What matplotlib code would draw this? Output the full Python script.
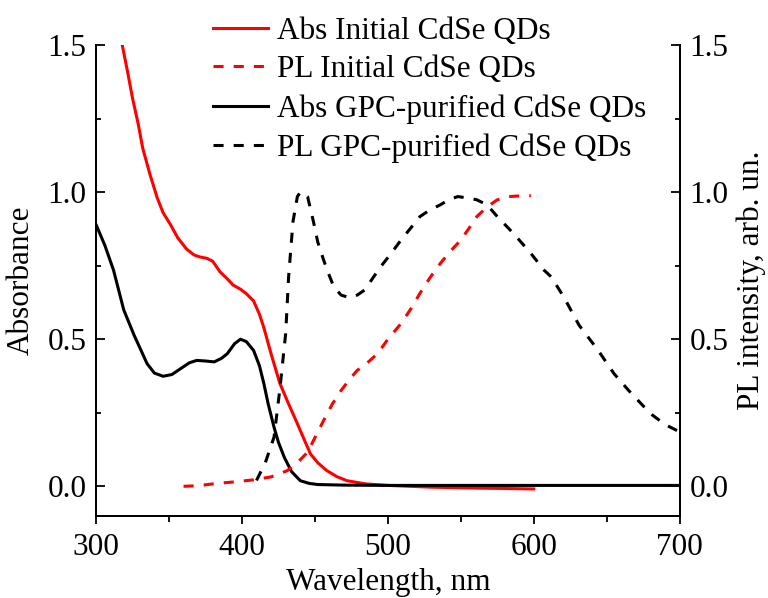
import matplotlib
matplotlib.use("Agg")
from matplotlib import pyplot as plt
from matplotlib.ticker import MultipleLocator, FormatStrFormatter

# data
abs_init_wl = [318, 322, 325, 329, 332, 337, 342, 346, 351, 356, 362, 367, 371, 376, 380,
               385, 390, 394, 399, 403, 408, 412, 415, 420, 426, 432, 438, 443, 447, 452,
               458, 465, 472, 485, 500, 530, 560, 600]
abs_init = [1.5, 1.4, 1.32, 1.23, 1.15, 1.06, 0.98, 0.93, 0.89, 0.845, 0.807, 0.787, 0.78,
            0.775, 0.765, 0.729, 0.705, 0.684, 0.67, 0.655, 0.63, 0.585, 0.54, 0.45, 0.35,
            0.28, 0.213, 0.155, 0.11, 0.08, 0.054, 0.033, 0.019, 0.008, 0.003, -0.003,
            -0.006, -0.009]

abs_gpc_wl = [300, 306, 312, 319, 326, 335, 340, 346, 352, 358, 364, 369, 375, 381, 386,
              390, 395, 399, 403, 408, 412, 415, 418, 422, 425, 429, 434, 440, 446, 452,
              470, 500, 600, 700]
abs_gpc = [0.89, 0.82, 0.735, 0.60, 0.515, 0.417, 0.385, 0.374, 0.38, 0.40, 0.42, 0.428,
           0.426, 0.423, 0.435, 0.451, 0.485, 0.50, 0.492, 0.462, 0.41, 0.35, 0.28, 0.201,
           0.15, 0.099, 0.05, 0.019, 0.01, 0.006, 0.004, 0.003, 0.003, 0.003]

pl_init_wl = [360, 370, 383, 395, 408, 420, 431, 438, 445, 450, 456, 462, 468, 474, 479,
              486, 493, 500, 509, 516, 522, 529, 536, 543, 550, 556, 561, 568, 575, 583,
              593, 598]
pl_init = [0.0, 0.002, 0.01, 0.015, 0.022, 0.032, 0.053, 0.08, 0.116, 0.165, 0.224, 0.28,
           0.326, 0.365, 0.394, 0.42, 0.451, 0.50, 0.553, 0.605, 0.656, 0.71, 0.758, 0.80,
           0.837, 0.88, 0.917, 0.95, 0.974, 0.985, 0.988, 0.988]

pl_gpc_wl = [410, 416, 422, 426, 430, 432, 435, 438, 440, 443, 445, 449, 452, 456, 460,
             463, 468, 474, 479, 484, 490, 495, 502, 509, 516, 522, 529, 536, 542, 548,
             555, 561, 568, 575, 586, 598, 607, 612, 621, 631, 644, 655, 665, 680, 690, 700]
pl_gpc = [0.02, 0.08, 0.167, 0.33, 0.52, 0.712, 0.90, 0.985, 1.0, 0.995, 0.985, 0.90, 0.83,
          0.769, 0.715, 0.678, 0.65, 0.641, 0.65, 0.667, 0.71, 0.746, 0.79, 0.837, 0.88,
          0.917, 0.94, 0.957, 0.975, 0.985, 0.98, 0.974, 0.957, 0.917, 0.86, 0.792, 0.735,
          0.712, 0.64, 0.548, 0.463, 0.383, 0.326, 0.247, 0.21, 0.185]

labels = ["Abs Initial CdSe QDs", "PL Initial CdSe QDs",
          "Abs GPC-purified CdSe QDs", "PL GPC-purified CdSe QDs"]

plt.rcParams["font.family"] = ["Liberation Serif", "DejaVu Serif"]
FS = 22.5
LW = 2.2
DASH = (0, (3.3, 3.3))

fig = plt.figure(figsize=(7.68, 5.98), dpi=100)
ax = fig.add_axes([0.125, 0.1376, 0.76, 0.787])
ax2 = ax.twinx()

l1, = ax.plot(abs_init_wl, abs_init, color="red", lw=LW)
l3, = ax.plot(abs_gpc_wl, abs_gpc, color="black", lw=LW)
l2, = ax2.plot(pl_init_wl, pl_init, color="red", lw=LW, linestyle=DASH)
l4, = ax2.plot(pl_gpc_wl, pl_gpc, color="black", lw=LW, linestyle=DASH)

for a in (ax, ax2):
    a.set_xlim(300, 700)
    a.set_ylim(-0.1, 1.5)
    a.yaxis.set_major_locator(MultipleLocator(0.5))
    a.yaxis.set_minor_locator(MultipleLocator(0.25))
    a.yaxis.set_major_formatter(FormatStrFormatter("%.1f"))
    a.spines["top"].set_visible(False)
    for s in a.spines.values():
        s.set_linewidth(1.3)
    a.tick_params(axis="y", which="both", direction="in", width=1.3, labelsize=FS, pad=7)
    a.tick_params(axis="y", which="major", length=6.5)
    a.tick_params(axis="y", which="minor", length=3.3)

ax.xaxis.set_major_locator(MultipleLocator(100))
ax.xaxis.set_minor_locator(MultipleLocator(50))
ax.tick_params(axis="x", which="both", direction="out", width=1.3, labelsize=FS, pad=7)
ax.tick_params(axis="x", which="major", length=5.8)
ax.tick_params(axis="x", which="minor", length=4.3)

# the reference crops these two labels at the edge; keep them just inside
ax.set_xlabel("Wavelength, nm", fontsize=FS, labelpad=4)
ax.set_ylabel("Absorbance", fontsize=FS, labelpad=8)
ax2.set_ylabel("PL intensity, arb. un.", fontsize=FS, labelpad=6)

fig.legend([l1, l2, l3, l4], labels, loc="upper left", bbox_to_anchor=(0.2775, 0.972),
           frameon=False, fontsize=FS, handlelength=1.75, handletextpad=0.3,
           labelspacing=0.31, borderpad=0, borderaxespad=0)

fig.savefig("out.png", dpi=100)
